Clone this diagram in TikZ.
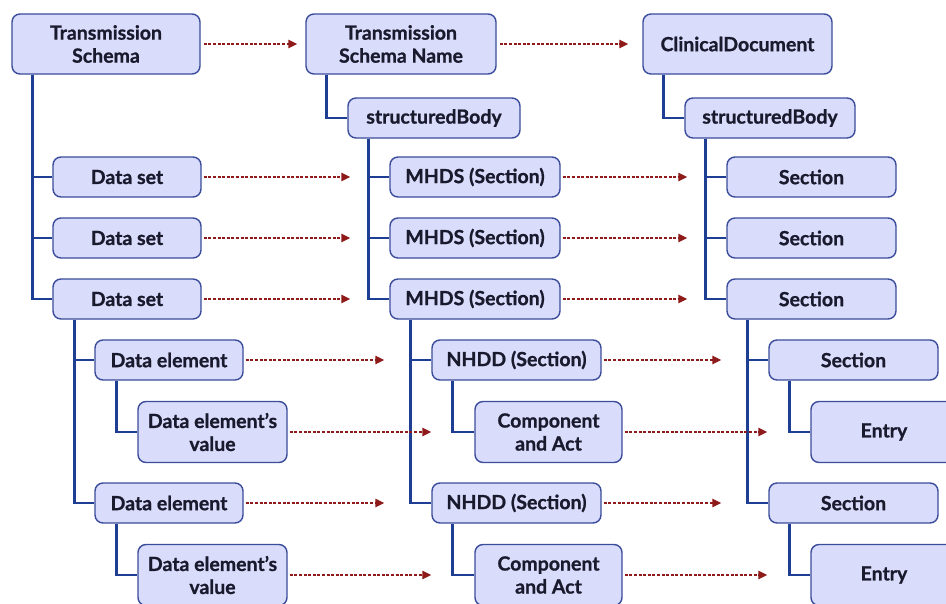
\documentclass[tikz,border=0pt]{standalone}
\usepackage{fontspec}
\setmainfont{Lato}[BoldFeatures={FakeBold=0.9}]
\usetikzlibrary{arrows.meta}
\definecolor{boxfill}{HTML}{D9DCFA}
\definecolor{boxline}{HTML}{3A4C9A}
\definecolor{treeline}{HTML}{1E3E94}
\definecolor{arrred}{HTML}{8E1A1A}
\definecolor{txt}{HTML}{1A1A2E}
\tikzset{
  bx/.style={draw=boxline, fill=boxfill, line width=1.4pt, rounded corners=8pt,
    align=center, text=txt, font=\bfseries\fontsize{19.5}{23}\selectfont, inner sep=0pt},
  wide/.style={bx, minimum width=188pt, minimum height=60pt},
  sml/.style={bx, minimum width=#1, minimum height=40pt},
  tall/.style={bx, minimum width=#1, minimum height=61pt},
  tree/.style={draw=treeline, line width=2.8pt},
  map/.style={draw=arrred, line width=1.5pt, dash pattern=on 3pt off 1.6pt,
    -{Triangle[length=9pt,width=8.5pt]}},
}
\begin{document}
\begin{tikzpicture}[x=1pt,y=-1pt]
\useasboundingbox (0,0) rectangle (946,603);
% column 1
\node[wide] (ts) at (106,44) {Transmission\\Schema};
\node[sml=148pt] (ds1) at (127,177) {Data set};
\node[sml=148pt] (ds2) at (127,238) {Data set};
\node[sml=148pt] (ds3) at (127,299) {Data set};
\node[sml=148pt] (de1) at (169,360) {Data element};
\node[tall=149pt] (dv1) at (212.5,432) {Data element's\\value};
\node[sml=148pt] (de2) at (169,503) {Data element};
\node[tall=149pt] (dv2) at (212.5,575) {Data element's\\value};
% column 2
\node[wide, minimum width=190pt] (tsn) at (401,44) {Transmission\\Schema Name};
\node[sml=172pt] (sb2) at (434,118) {structuredBody};
\node[sml=170pt] (mh1) at (475,177) {MHDS (Section)};
\node[sml=170pt] (mh2) at (475,238) {MHDS (Section)};
\node[sml=170pt] (mh3) at (475,299) {MHDS (Section)};
\node[sml=169pt] (nh1) at (516.5,360) {NHDD (Section)};
\node[tall=147pt] (ca1) at (548.5,432) {Component\\and Act};
\node[sml=169pt] (nh2) at (516.5,503) {NHDD (Section)};
\node[tall=147pt] (ca2) at (548.5,575) {Component\\and Act};
% column 3
\node[wide, minimum width=189pt] (cd) at (737.5,44) {ClinicalDocument};
\node[sml=170pt] (sb3) at (770,118) {structuredBody};
\node[sml=169pt] (se1) at (811.5,177) {Section};
\node[sml=169pt] (se2) at (811.5,238) {Section};
\node[sml=169pt] (se3) at (811.5,299) {Section};
\node[sml=169pt] (ss1) at (853.5,360) {Section};
\node[tall=146pt] (en1) at (884,432) {Entry};
\node[sml=169pt] (ss2) at (853.5,503) {Section};
\node[tall=146pt] (en2) at (884,575) {Entry};
% tree lines
\path[tree] ([xshift=21pt]ts.south west) |- (ds1.west);
\path[tree] ([xshift=21pt]ts.south west) |- (ds2.west);
\path[tree] ([xshift=21pt]ts.south west) |- (ds3.west);
\path[tree] ([xshift=22pt]ds3.south west) |- (de1.west);
\path[tree] ([xshift=22pt]ds3.south west) |- (de2.west);
\path[tree] ([xshift=22pt]de1.south west) |- (dv1.west);
\path[tree] ([xshift=22pt]de2.south west) |- (dv2.west);
\path[tree] ([xshift=21pt]tsn.south west) |- (sb2.west);
\path[tree] ([xshift=21pt]sb2.south west) |- (mh1.west);
\path[tree] ([xshift=21pt]sb2.south west) |- (mh2.west);
\path[tree] ([xshift=21pt]sb2.south west) |- (mh3.west);
\path[tree] ([xshift=21pt]mh3.south west) |- (nh1.west);
\path[tree] ([xshift=21pt]mh3.south west) |- (nh2.west);
\path[tree] ([xshift=21pt]nh1.south west) |- (ca1.west);
\path[tree] ([xshift=21pt]nh2.south west) |- (ca2.west);
\path[tree] ([xshift=21pt]cd.south west) |- (sb3.west);
\path[tree] ([xshift=21pt]sb3.south west) |- (se1.west);
\path[tree] ([xshift=21pt]sb3.south west) |- (se2.west);
\path[tree] ([xshift=21pt]sb3.south west) |- (se3.west);
\path[tree] ([xshift=21pt]se3.south west) |- (ss1.west);
\path[tree] ([xshift=21pt]se3.south west) |- (ss2.west);
\path[tree] ([xshift=21pt]ss1.south west) |- (en1.west);
\path[tree] ([xshift=21pt]ss2.south west) |- (en2.west);
% mapping arrows
\path[map, shorten <=3pt, shorten >=8pt] (ts) -- (tsn);
\path[map, shorten <=3pt, shorten >=14pt] (tsn) -- (cd);
\foreach \a/\b in {ds1/mh1, ds2/mh2, ds3/mh3}
  \path[map, shorten <=2pt, shorten >=39pt] (\a) -- (\b);
\foreach \a/\b in {mh1/se1, mh2/se2, mh3/se3}
  \path[map, shorten <=2pt, shorten >=39pt] (\a) -- (\b);
\foreach \a/\b in {de1/nh1, de2/nh2}
  \path[map, shorten <=2pt, shorten >=47pt] (\a) -- (\b);
\foreach \a/\b in {nh1/ss1, nh2/ss2}
  \path[map, shorten <=2pt, shorten >=47pt] (\a) -- (\b);
\foreach \a/\b in {dv1/ca1, dv2/ca2}
  \path[map, shorten <=2pt, shorten >=43pt] (\a) -- (\b);
\foreach \a/\b in {ca1/en1, ca2/en2}
  \path[map, shorten <=2pt, shorten >=43pt] (\a) -- (\b);
\end{tikzpicture}
\end{document}
